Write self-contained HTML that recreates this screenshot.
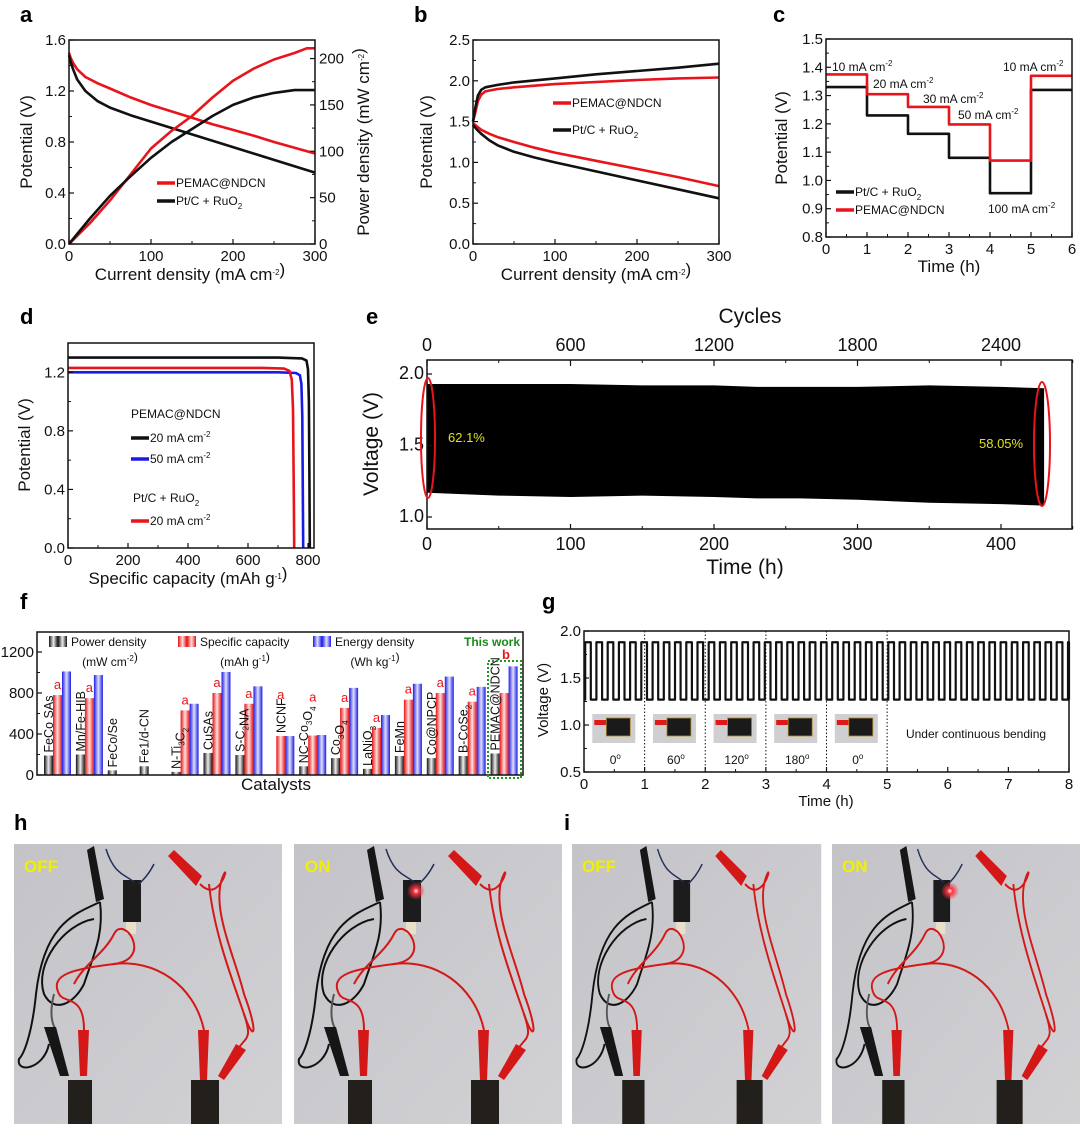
<!DOCTYPE html>
<html><head><meta charset="utf-8"><style>
html,body{margin:0;padding:0;background:#fff;}
svg{display:block;font-family:"Liberation Sans",Arial,sans-serif;}
.pl{font-weight:bold;font-size:22px;}
</style></head><body>
<svg id="fig" width="1080" height="1124" viewBox="0 0 1080 1124">
<defs>
<linearGradient id="gk" x1="0" x2="1"><stop offset="0" stop-color="#111"/><stop offset="0.5" stop-color="#eee"/><stop offset="1" stop-color="#111"/></linearGradient>
<linearGradient id="gr" x1="0" x2="1"><stop offset="0" stop-color="#e81010"/><stop offset="0.5" stop-color="#fde0e0"/><stop offset="1" stop-color="#e81010"/></linearGradient>
<linearGradient id="gb" x1="0" x2="1"><stop offset="0" stop-color="#1a1ae8"/><stop offset="0.5" stop-color="#e0e0fd"/><stop offset="1" stop-color="#1a1ae8"/></linearGradient>
<linearGradient id="bg" x1="0" y1="0" x2="1" y2="1"><stop offset="0" stop-color="#c4c3c8"/><stop offset="1" stop-color="#d2d1d4"/></linearGradient>
<radialGradient id="glow"><stop offset="0" stop-color="#fff"/><stop offset="0.3" stop-color="#ff3040"/><stop offset="1" stop-color="#ff3040" stop-opacity="0"/></radialGradient>
<g id="scene">
<rect x="0" y="0" width="268" height="290" fill="url(#bg)"/>
<path d="M86 58 C60 70,30 80,22 150 C18 190,10 210,5 215 C2 230,30 225,35 200" fill="none" stroke="#111" stroke-width="2"/>
<path d="M86 58 C90 90,80 110,70 140 C60 160,40 170,30 150 C20 120,50 80,80 75" fill="none" stroke="#111" stroke-width="2"/>
<path d="M40 150 C35 170,38 180,42 186" fill="none" stroke="#555" stroke-width="2"/>
<polygon points="73,6 80,2 90,55 82,58" fill="#161616"/>
<rect x="109" y="36" width="18" height="42" fill="#1c1c1c"/>
<rect x="112" y="78" width="10" height="12" fill="#e8e0c8"/>
<path d="M92 5 C100 30,110 30,120 38 M140 20 C135 30,130 35,125 40" fill="none" stroke="#23305a" stroke-width="1.5"/>
<polygon points="154,12 160,6 188,32 182,42" fill="#d41818"/>
<path d="M186 40 C205 60,215 20,210 30 C195 60,220 110,230 150 C245 190,240 200,230 170 C220 140,200 90,195 40" fill="none" stroke="#d41818" stroke-width="2"/>
<path d="M230 170 C240 200,230 190,218 215" fill="none" stroke="#d41818" stroke-width="2"/>
<path d="M70 186 C70 150,50 160,45 150 C35 130,60 125,100 120 C140 115,110 70,100 90 C90 110,70 120,60 140" fill="none" stroke="#d41818" stroke-width="2"/>
<path d="M100 120 C140 115,180 140,190 186" fill="none" stroke="#d41818" stroke-width="2"/>
<polygon points="64,186 75,186 73,232 66,232" fill="#d41818"/>
<polygon points="184,186 195,186 193,236 186,236" fill="#d41818"/>
<polygon points="222,200 232,206 210,236 204,232" fill="#d41818"/>
<polygon points="30,183 42,183 55,232 46,232" fill="#161616"/>
<rect x="54" y="236" width="24" height="58" fill="#23201c"/>
<rect x="177" y="236" width="28" height="60" fill="#23201c"/>
</g>
</defs>

<text class="pl" x="20" y="22">a</text>
<text class="pl" x="414" y="22">b</text>
<text class="pl" x="773" y="22">c</text>
<text class="pl" x="20" y="324">d</text>
<text class="pl" x="366" y="324">e</text>
<text class="pl" x="20" y="609">f</text>
<text class="pl" x="542" y="609">g</text>
<text class="pl" x="14" y="830">h</text>
<text class="pl" x="564" y="830">i</text>

<g><use href="#scene" transform="translate(14,844)"/><text x="24" y="872" font-weight="bold" font-size="17" fill="#f0f000">OFF</text></g>
<g><use href="#scene" transform="translate(294,844)"/><circle cx="416" cy="891" r="9" fill="url(#glow)"/><text x="305" y="872" font-weight="bold" font-size="17" fill="#f0f000">ON</text></g>
<g><use href="#scene" transform="translate(572,844) scale(0.93,1)"/><text x="582" y="872" font-weight="bold" font-size="17" fill="#f0f000">OFF</text></g>
<g><use href="#scene" transform="translate(832,844) scale(0.93,1)"/><circle cx="950" cy="891" r="9" fill="url(#glow)"/><text x="842" y="872" font-weight="bold" font-size="17" fill="#f0f000">ON</text></g>

<g id="plots"></g>
</svg>
<script>
// ---------- data ----------
// panel a
const aJ = [0,2,5,10,20,35,50,75,100,125,150,175,200,225,250,275,300];
const aVpem = [1.50,1.46,1.42,1.37,1.31,1.26,1.22,1.15,1.09,1.04,0.99,0.94,0.895,0.85,0.80,0.755,0.71];
const aVpt = [1.48,1.43,1.37,1.29,1.20,1.12,1.07,1.01,0.96,0.91,0.86,0.81,0.76,0.71,0.66,0.61,0.56];
const aPJ = [0,25,50,75,100,125,150,175,200,225,250,275,290,300];
const aPpem = [0,22,47,75,103,122,138,158,176,189,199,206,211,211];
const aPpt = [0,27,52,73,93,110,124,138,150,158,163,166,166,166];
// panel b
const bJc = [0,3,6,10,15,30,50,100,150,200,250,300];
const bCpem = [1.50,1.62,1.75,1.83,1.87,1.90,1.92,1.96,1.985,2.01,2.03,2.04];
const bCpt = [1.50,1.68,1.82,1.89,1.92,1.95,1.98,2.03,2.08,2.12,2.16,2.21];
const bJd = [0,5,10,20,30,50,75,100,150,200,250,300];
const bDpem = [1.48,1.44,1.40,1.35,1.31,1.25,1.18,1.12,1.02,0.92,0.82,0.71];
const bDpt = [1.46,1.40,1.35,1.27,1.21,1.13,1.06,1.00,0.89,0.78,0.67,0.56];
// panel c
const cHours = [0,1,2,3,4,5,6];
const cPem = [1.375,1.305,1.26,1.198,1.07,1.37];
const cPt = [1.33,1.23,1.165,1.08,0.955,1.32];
// panel d
const dQblack = [0,400,700,780,795,800,803,805,806];
const dVblack = [1.30,1.30,1.30,1.295,1.28,1.22,1.0,0.4,0];
const dQblue = [0,400,700,760,773,778,781,783,784];
const dVblue = [1.20,1.20,1.20,1.195,1.18,1.12,0.9,0.3,0];
const dQred = [0,400,650,720,738,746,750,753,754];
const dVred = [1.23,1.23,1.23,1.225,1.21,1.15,0.95,0.3,0];
// panel e
const eT = [0,50,100,150,200,230,260,300,350,400,430];
const eUp = [1.93,1.93,1.93,1.92,1.92,1.91,1.91,1.91,1.92,1.91,1.90];
const eLo = [1.17,1.15,1.14,1.15,1.14,1.13,1.13,1.12,1.10,1.09,1.08];
// panel f
const fCats = ["FeCo SAs","Mn/Fe-HIB","FeCo/Se","Fe1/d-CN","N-Ti3C2","CuSAs","S-C2NA","NCNF","NC-Co3O4","Co3O4","LaNiO3","FeMn","Co@NPCP","B-CoSe2","PEMAC@NDCN"];
const fPower = [190,200,45,85,30,215,195,0,85,165,60,185,165,185,210];
const fCap = [780,750,0,0,630,800,695,380,385,655,460,735,800,715,800];
const fEnergy = [1010,975,0,0,695,1005,865,380,390,850,585,890,960,860,1060];
const fTicks = [0,400,800,1200];
// panel g
const gHigh = 1.88, gLow = 1.27, gCyclesPerHour = 5.4;
const gAngles = ["0°","60°","120°","180°","0°"];

// ---------- helpers ----------
const NS = "http://www.w3.org/2000/svg";
const root = document.getElementById("plots");
function el(tag, attrs, parent) {
  const e = document.createElementNS(NS, tag);
  for (const k in attrs) e.setAttribute(k, attrs[k]);
  (parent || root).appendChild(e);
  return e;
}
function txt(x, y, s, size, anchor, parent, extra) {
  const t = el("text", Object.assign({x: x, y: y, "font-size": size, "text-anchor": anchor || "middle", fill: "#111"}, extra || {}), parent);
  t.textContent = s;
  return t;
}
function line(xs, ys, X, Y, color, w, name) {
  let d = "";
  for (let i = 0; i < xs.length; i++) d += (i ? "L" : "M") + X(xs[i]).toFixed(1) + " " + Y(ys[i]).toFixed(1);
  const p = el("path", {d: d, fill: "none", stroke: color, "stroke-width": w, "stroke-linejoin": "round"});
  
  
  return p;
}
function frame(x0, y0, x1, y1, name) {
  const r = el("rect", {x: x0, y: y0, width: x1 - x0, height: y1 - y0, fill: "none", stroke: "#111", "stroke-width": 1.5});
  
  
}
function xTicks(vals, X, yb, labels, minor, fs) {
  vals.forEach((v, i) => {
    el("line", {x1: X(v), x2: X(v), y1: yb, y2: yb - 5, stroke: "#111", "stroke-width": 1.2});
    if (labels) {
      const t = txt(X(v), yb + (fs ? fs + 3 : 17), labels[i], fs || 15);
      
      
    }
  });
  (minor || []).forEach(v => el("line", {x1: X(v), x2: X(v), y1: yb, y2: yb - 3, stroke: "#111", "stroke-width": 1}));
}
function yTicks(vals, Y, xl, labels, side, minor, fs) {
  const dir = side === "r" ? -1 : 1;
  vals.forEach((v, i) => {
    el("line", {x1: xl, x2: xl + 5 * dir, y1: Y(v), y2: Y(v), stroke: "#111", "stroke-width": 1.2});
    const t = txt(side === "r" ? xl + 4 : xl - 3, Y(v) + 5, labels[i], fs || 15, side === "r" ? "start" : "end");
    
    
  });
  (minor || []).forEach(v => el("line", {x1: xl, x2: xl + 3 * dir, y1: Y(v), y2: Y(v), stroke: "#111", "stroke-width": 1}));
}
function vtitle(x, y, s, size) {
  const t = txt(x, y, "", size || 17, "middle", null, {transform: "rotate(-90 " + x + " " + y + ")"});
  t.innerHTML = s;
  
  
}
function htitle(x, y, s, size) {
  const t = txt(x, y, "", size || 17);
  t.innerHTML = s;
  
  
}
function legendLine(x, y, color, label, w) {
  el("line", {x1: x, x2: x + 18, y1: y, y2: y, stroke: color, "stroke-width": 3.5});
  const t = txt(x + 19, y + 4, "", w || 12, "start");
  t.innerHTML = label;
  
  
}
const SUP = s => '<tspan dy="-5" font-size="8">' + s + '</tspan><tspan dy="5"></tspan>';
const SUB = s => '<tspan dy="4" font-size="8">' + s + '</tspan><tspan dy="-4"></tspan>';

// ---------- panel a ----------
(function () {
  const X = j => 69 + j / 300 * 246, Y = v => 244 - v / 1.6 * 204, YR = p => 244 - p / 220 * 204;
  line(aJ, aVpem, X, Y, "#e8141c", 2.6, "a-pemac-potential");
  line(aJ, aVpt, X, Y, "#111", 2.6, "a-pt-potential");
  line(aPJ, aPpem, X, YR, "#e8141c", 2.6, "a-pemac-power");
  line(aPJ, aPpt, X, YR, "#111", 2.6, "a-pt-power");
  frame(69, 40, 315, 244, "a-plot-frame");
  xTicks([0, 100, 200, 300], X, 244, ["0", "100", "200", "300"], [50, 150, 250]);
  yTicks([0, 0.4, 0.8, 1.2, 1.6], Y, 69, ["0.0", "0.4", "0.8", "1.2", "1.6"], "l", [0.2, 0.6, 1.0, 1.4]);
  yTicks([0, 50, 100, 150, 200], YR, 315, ["0", "50", "100", "150", "200"], "r", [25, 75, 125, 175]);
  vtitle(32, 142, "Potential (V)");
  vtitle(369, 142, "Power density (mW cm" + SUP("-2") + ")");
  htitle(190, 280, "Current density (mA cm" + SUP("-2") + ")");
  legendLine(157, 183, "#e8141c", "PEMAC@NDCN");
  legendLine(157, 201, "#111", "Pt/C + RuO" + SUB("2"));
})();

// ---------- panel b ----------
(function () {
  const X = j => 473 + j / 300 * 246, Y = v => 244 - v / 2.5 * 204;
  line(bJc, bCpem, X, Y, "#e8141c", 2.6, "b-pemac-charge");
  line(bJc, bCpt, X, Y, "#111", 2.6, "b-pt-charge");
  line(bJd, bDpem, X, Y, "#e8141c", 2.6, "b-pemac-discharge");
  line(bJd, bDpt, X, Y, "#111", 2.6, "b-pt-discharge");
  frame(473, 40, 719, 244, "b-plot-frame");
  xTicks([0, 100, 200, 300], X, 244, ["0", "100", "200", "300"], [50, 150, 250]);
  yTicks([0, 0.5, 1, 1.5, 2, 2.5], Y, 473, ["0.0", "0.5", "1.0", "1.5", "2.0", "2.5"], "l", [0.25, 0.75, 1.25, 1.75, 2.25]);
  vtitle(432, 142, "Potential (V)");
  htitle(596, 280, "Current density (mA cm" + SUP("-2") + ")");
  legendLine(553, 103, "#e8141c", "PEMAC@NDCN");
  legendLine(553, 130, "#111", "Pt/C + RuO" + SUB("2"));
})();

// ---------- panel c ----------
(function () {
  const X = t => 826 + t / 6 * 246, Y = v => 39 + (1.5 - v) / 0.7 * 198;
  function steps(vals) { const xs = [], ys = []; vals.forEach((v, i) => { xs.push(cHours[i], cHours[i + 1]); ys.push(v, v); }); return [xs, ys]; }
  const s1 = steps(cPt), s2 = steps(cPem);
  line(s1[0], s1[1], X, Y, "#111", 2.6, "c-pt-steps");
  line(s2[0], s2[1], X, Y, "#e8141c", 2.6, "c-pemac-steps");
  frame(826, 39, 1072, 237, "c-plot-frame");
  xTicks([0, 1, 2, 3, 4, 5, 6], X, 237, ["0", "1", "2", "3", "4", "5", "6"], [0.5, 1.5, 2.5, 3.5, 4.5, 5.5]);
  yTicks([0.8, 0.9, 1.0, 1.1, 1.2, 1.3, 1.4, 1.5], Y, 826, ["0.8", "0.9", "1.0", "1.1", "1.2", "1.3", "1.4", "1.5"], "l", [0.85, 0.95, 1.05, 1.15, 1.25, 1.35, 1.45]);
  vtitle(787, 138, "Potential (V)");
  htitle(949, 272, "Time (h)");
  legendLine(836, 192, "#111", "Pt/C + RuO" + SUB("2"));
  legendLine(836, 210, "#e8141c", "PEMAC@NDCN");
  [[832, 71, "10"], [873, 88, "20"], [923, 103, "30"], [958, 119, "50"], [988, 213, "100"], [1003, 71, "10"]].forEach(a => {
    const t = txt(a[0], a[1], "", 12, "start");
    t.innerHTML = a[2] + " mA cm" + SUP("-2");
    
    
  });
})();

// ---------- panel d ----------
(function () {
  const X = q => 68 + q / 800 * 240, Y = v => 548 - v / 1.4 * 205;
  line(dQblack, dVblack, X, Y, "#111", 2.6, "d-pemac-20");
  line(dQblue, dVblue, X, Y, "#1a1ae8", 2.6, "d-pemac-50");
  line(dQred, dVred, X, Y, "#e8141c", 2.6, "d-pt-20");
  frame(68, 343, 314, 548, "d-plot-frame");
  xTicks([0, 200, 400, 600, 800], X, 548, ["0", "200", "400", "600", "800"], [100, 300, 500, 700]);
  yTicks([0, 0.4, 0.8, 1.2], Y, 68, ["0.0", "0.4", "0.8", "1.2"], "l", [0.2, 0.6, 1.0]);
  vtitle(30, 445, "Potential (V)");
  htitle(188, 584, "Specific capacity (mAh g" + SUP("-1") + ")");
  txt(131, 418, "PEMAC@NDCN", 12, "start");
  legendLine(131, 438, "#111", "20 mA cm" + SUP("-2"));
  legendLine(131, 459, "#1a1ae8", "50 mA cm" + SUP("-2"));
  const t = txt(133, 502, "", 12, "start"); t.innerHTML = "Pt/C + RuO" + SUB("2");
  legendLine(131, 521, "#e8141c", "20 mA cm" + SUP("-2"));
})();

// ---------- panel e ----------
(function () {
  const X = t => 427 + t * 1.435, Y = v => 374 + (2.0 - v) * 143;
  let d = "";
  eT.forEach((t, i) => d += (i ? "L" : "M") + X(t).toFixed(1) + " " + Y(eUp[i]).toFixed(1));
  for (let i = eT.length - 1; i >= 0; i--) d += "L" + X(eT[i]).toFixed(1) + " " + Y(eLo[i]).toFixed(1);
  const band = el("path", {d: d + "Z", fill: "#000"});
  
  
  frame(427, 360, 1072, 529, "e-plot-frame");
  xTicks([0, 100, 200, 300, 400], X, 529, ["0", "100", "200", "300", "400"], [50, 150, 250, 350, 450], 18);
  [0, 100, 200, 300, 400].forEach((v, i) => {
    el("line", {x1: X(v), x2: X(v), y1: 360, y2: 366, stroke: "#111", "stroke-width": 1.2});
    const t = txt(X(v), 351, ["0", "600", "1200", "1800", "2400"][i], 18);
    
    
  });
  [50, 150, 250, 350, 450].forEach(v => el("line", {x1: X(v), x2: X(v), y1: 360, y2: 363, stroke: "#111"}));
  yTicks([1.0, 1.5, 2.0], Y, 427, ["1.0", "1.5", "2.0"], "l", [1.25, 1.75], 18);
  vtitle(378, 444, "Voltage (V)", 21);
  htitle(745, 574, "Time (h)", 21);
  htitle(750, 323, "Cycles", 21);
  txt(448, 442, "62.1%", 13, "start", null, {fill: "#e0e020"});
  txt(979, 448, "58.05%", 13, "start", null, {fill: "#e0e020"});
  el("ellipse", {cx: 428, cy: 438, rx: 7, ry: 60, fill: "none", stroke: "#e8141c", "stroke-width": 2});
  el("ellipse", {cx: 1042, cy: 444, rx: 8, ry: 62, fill: "none", stroke: "#e8141c", "stroke-width": 2});
})();

// ---------- panel f ----------
(function () {
  const Y = v => 775 - v * 123 / 1200;
  const gx = i => 44 + i * 31.9, bw = 9;
  fCats.forEach((c, i) => {
    [[fPower, "url(#gk)"], [fCap, "url(#gr)"], [fEnergy, "url(#gb)"]].forEach((s, k) => {
      const v = s[0][i];
      if (v <= 0) return;
      const r = el("rect", {x: gx(i) + k * bw, y: Y(v), width: bw, height: 775 - Y(v), fill: s[1]});
      
      
    });
    const base = fPower[i] > 0 ? fPower[i] : fCap[i];
    const lx = gx(i) + (fPower[i] > 0 ? 9 : 18), ly = Y(base) - 3;
    const t = txt(lx, ly, "", 12.5, "start", null, {transform: "rotate(-90 " + lx + " " + ly + ")"});
    t.innerHTML = c.replace(/(Ti)3(C)2/, "$1" + SUB("3") + "$2" + SUB("2")).replace(/C2NA/, "C" + SUB("2") + "NA").replace(/Co3O4/, "Co" + SUB("3") + "O" + SUB("4")).replace(/NiO3/, "NiO" + SUB("3")).replace(/CoSe2/, "CoSe" + SUB("2"));
    
    
    if (fCap[i] > 0 && i < fCats.length - 1) {
      const labTop = ly - c.length * 7 - 6;
      const overlaps = fPower[i] === 0 || (c.length >= 8 && fPower[i] < 100);
      const ay = overlaps ? Math.min(Y(fCap[i]) - 6, labTop) : Y(fCap[i]) - 6;
      txt(gx(i) + bw * 1.5, ay, "a", 13, "middle", null, {fill: "#e8141c"});
    }
  });
  frame(37, 632, 523, 775, "f-plot-frame");
  yTicks(fTicks, Y, 37, fTicks.map(String), "l", [200, 600, 1000]);
  htitle(276, 790, "Catalysts");
  [[49, "url(#gk)", "Power density"], [178, "url(#gr)", "Specific capacity"], [313, "url(#gb)", "Energy density"]].forEach(l => {
    el("rect", {x: l[0], y: 636, width: 9, height: 11, fill: l[1]});
    el("rect", {x: l[0] + 9, y: 636, width: 9, height: 11, fill: l[1]});
    const t = txt(l[0] + 22, 646, l[2], 12, "start");
    
    
  });
  [[110, "(mW cm" + SUP("-2") + ")"], [245, "(mAh g" + SUP("-1") + ")"], [375, "(Wh kg" + SUP("-1") + ")"]].forEach(u => { const t = txt(u[0], 666, "", 12); t.innerHTML = u[1]; });
  txt(492, 646, "This work", 12, "middle", null, {fill: "#1a8a1a", "font-weight": "bold"});
  txt(506, 659, "b", 13, "middle", null, {fill: "#e8141c", "font-weight": "bold"});
  el("rect", {x: 488, y: 661, width: 33, height: 117, fill: "none", stroke: "#1a9a1a", "stroke-width": 2, "stroke-dasharray": "2 2"});
})();

// ---------- panel g ----------
(function () {
  const X = t => 584 + t / 8 * 485, Y = v => 631 + (2 - v) * 94;
  const period = 1 / gCyclesPerHour;
  let d = "M" + X(0) + " " + Y(gLow);
  for (let t = 0.02; t < 8; t += period) {
    d += "L" + X(t).toFixed(1) + " " + Y(gLow) + "L" + X(t).toFixed(1) + " " + Y(gHigh) + "L" + X(Math.min(t + period / 2, 8)).toFixed(1) + " " + Y(gHigh) + "L" + X(Math.min(t + period / 2, 8)).toFixed(1) + " " + Y(gLow);
  }
  d += "L" + X(8) + " " + Y(gLow);
  const p = el("path", {d: d, fill: "none", stroke: "#111", "stroke-width": 2.2, "stroke-linejoin": "round"});
  
  
  [1, 2, 3, 4, 5].forEach(h => el("line", {x1: X(h), x2: X(h), y1: 631, y2: 772, stroke: "#111", "stroke-width": 1, "stroke-dasharray": "1.5 2"}));
  gAngles.forEach((a, i) => {
    const cx = X(i + 0.5);
    const g = el("g", {});
    
    
    el("rect", {x: cx - 22, y: 714, width: 43, height: 29, fill: "#cfcfd2"}, g);
    el("rect", {x: cx - 20, y: 720, width: 14, height: 5, fill: "#e01818"}, g);
    el("rect", {x: cx - 8, y: 718, width: 24, height: 18, fill: "#1a1a1a", stroke: "#b08a30", "stroke-width": 0.8}, g);
    const t = txt(cx + 1, 764, "", 12); t.innerHTML = a.replace("°", "") + '<tspan dy="-5" font-size="8">o</tspan>';
  });
  txt(976, 738, "Under continuous bending", 12);
  frame(584, 631, 1069, 772, "g-plot-frame");
  xTicks([0, 1, 2, 3, 4, 5, 6, 7, 8], X, 772, ["0", "1", "2", "3", "4", "5", "6", "7", "8"], [0.5, 1.5, 2.5, 3.5, 4.5, 5.5, 6.5, 7.5]);
  yTicks([0.5, 1.0, 1.5, 2.0], Y, 584, ["0.5", "1.0", "1.5", "2.0"], "l", [0.75, 1.25, 1.75]);
  vtitle(548, 700, "Voltage (V)", 15);
  htitle(826, 806, "Time (h)", 15);
})();
</script>
</body></html>
